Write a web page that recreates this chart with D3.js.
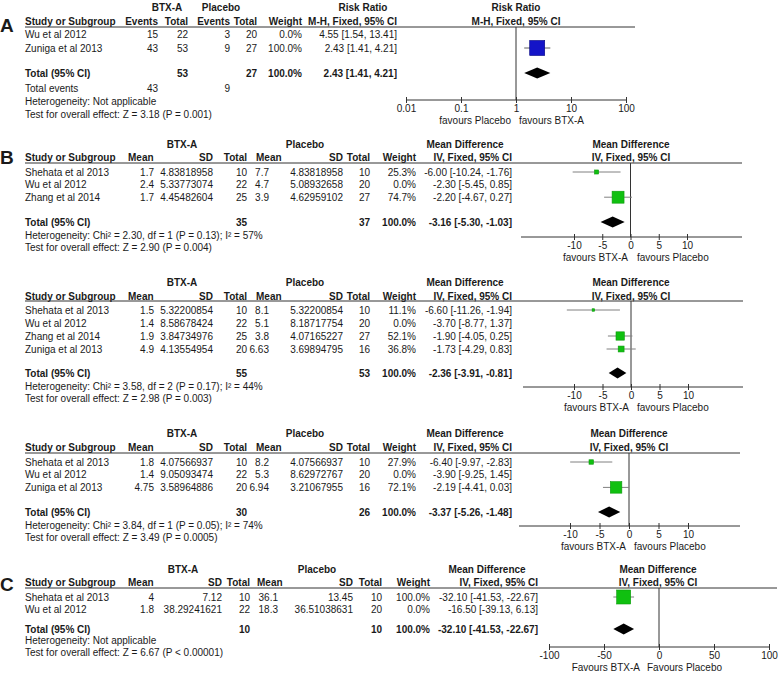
<!DOCTYPE html>
<html><head><meta charset="utf-8">
<script src="https://cdn.jsdelivr.net/npm/d3@7"></script>
<style>
body{margin:0;background:#fff}
text{font-family:"Liberation Sans",Arial,sans-serif;font-size:10px;fill:#1a1a1a}
</style>
</head><body>
<svg id="c" width="778" height="675"></svg>
<script>
// ---------------- Panel A (Risk Ratio) ----------------
const studiesA   = ["Wu et al 2012", "Zuniga et al 2013"];
const eventsBtxA = [15, 43];
const totalBtxA  = [22, 53];
const eventsPlaA = [3, 9];
const totalPlaA  = [20, 27];
const weightA    = [0.0, 100.0];
const rrA        = [4.55, 2.43];
const rrLowA     = [1.54, 1.41];
const rrHighA    = [13.41, 4.21];
const totalA     = {n1: 53, n2: 27, ev1: 43, ev2: 9, est: 2.43, lo: 1.41, hi: 4.21};
const hetA       = "Heterogeneity: Not applicable";
const testA      = "Test for overall effect: Z = 3.18 (P = 0.001)";
const ticksA     = [0.01, 0.1, 1, 10, 100];
const tickLabelsA = ["0.01", "0.1", "1", "10", "100"];

// ---------------- Panel B1 ----------------
const studiesB1 = ["Shehata et al 2013", "Wu et al 2012", "Zhang et al 2014"];
const meanBtxB1 = [1.7, 2.4, 1.7];
const sdBtxB1   = ["4.83818958", "5.33773074", "4.45482604"];
const nBtxB1    = [10, 22, 25];
const meanPlaB1 = [7.7, 4.7, 3.9];
const sdPlaB1   = ["4.83818958", "5.08932658", "4.62959102"];
const nPlaB1    = [10, 20, 27];
const weightB1  = [25.3, 0.0, 74.7];
const mdB1      = [-6.00, -2.30, -2.20];
const loB1      = [-10.24, -5.45, -4.67];
const hiB1      = [-1.76, 0.85, 0.27];
const totalB1   = {n1: 35, n2: 37, md: -3.16, lo: -5.30, hi: -1.03};
const hetB1     = "Heterogeneity: Chi² = 2.30, df = 1 (P = 0.13); I² = 57%";
const testB1    = "Test for overall effect: Z = 2.90 (P = 0.004)";

// ---------------- Panel B2 ----------------
const studiesB2 = ["Shehata et al 2013", "Wu et al 2012", "Zhang et al 2014", "Zuniga et al 2013"];
const meanBtxB2 = [1.5, 1.4, 1.9, 4.9];
const sdBtxB2   = ["5.32200854", "8.58678424", "3.84734976", "4.13554954"];
const nBtxB2    = [10, 22, 25, 20];
const meanPlaB2 = [8.1, 5.1, 3.8, 6.63];
const sdPlaB2   = ["5.32200854", "8.18717754", "4.07165227", "3.69894795"];
const nPlaB2    = [10, 20, 27, 16];
const weightB2  = [11.1, 0.0, 52.1, 36.8];
const mdB2      = [-6.60, -3.70, -1.90, -1.73];
const loB2      = [-11.26, -8.77, -4.05, -4.29];
const hiB2      = [-1.94, 1.37, 0.25, 0.83];
const totalB2   = {n1: 55, n2: 53, md: -2.36, lo: -3.91, hi: -0.81};
const hetB2     = "Heterogeneity: Chi² = 3.58, df = 2 (P = 0.17); I² = 44%";
const testB2    = "Test for overall effect: Z = 2.98 (P = 0.003)";

// ---------------- Panel B3 ----------------
const studiesB3 = ["Shehata et al 2013", "Wu et al 2012", "Zuniga et al 2013"];
const meanBtxB3 = [1.8, 1.4, 4.75];
const sdBtxB3   = ["4.07566937", "9.05093474", "3.58964886"];
const nBtxB3    = [10, 22, 20];
const meanPlaB3 = [8.2, 5.3, 6.94];
const sdPlaB3   = ["4.07566937", "8.62972767", "3.21067955"];
const nPlaB3    = [10, 20, 16];
const weightB3  = [27.9, 0.0, 72.1];
const mdB3      = [-6.40, -3.90, -2.19];
const loB3      = [-9.97, -9.25, -4.41];
const hiB3      = [-2.83, 1.45, 0.03];
const totalB3   = {n1: 30, n2: 26, md: -3.37, lo: -5.26, hi: -1.48};
const hetB3     = "Heterogeneity: Chi² = 3.84, df = 1 (P = 0.05); I² = 74%";
const testB3    = "Test for overall effect: Z = 3.49 (P = 0.0005)";

const ticksB = [-10, -5, 0, 5, 10];

// ---------------- Panel C ----------------
const studiesC = ["Shehata et al 2013", "Wu et al 2012"];
const meanBtxC = [4, 1.8];
const sdBtxC   = ["7.12", "38.29241621"];
const nBtxC    = [10, 22];
const meanPlaC = [36.1, 18.3];
const sdPlaC   = ["13.45", "36.51038631"];
const nPlaC    = [10, 20];
const weightC  = [100.0, 0.0];
const mdC      = [-32.10, -16.50];
const loC      = [-41.53, -39.13];
const hiC      = [-22.67, 6.13];
const totalC   = {n1: 10, n2: 10, md: -32.10, lo: -41.53, hi: -22.67};
const hetC     = "Heterogeneity: Not applicable";
const testC    = "Test for overall effect: Z = 6.67 (P < 0.00001)";
const ticksC   = [-100, -50, 0, 50, 100];

// ---------------- helpers ----------------
const svg = d3.select("#c");
const f2 = v => v.toFixed(2);
const ciText = (m, l, h) => `${f2(m)} [${f2(l)}, ${f2(h)}]`;
const wText = w => w.toFixed(1) + "%";
const LINE = "#333";
const WHISK = "#808080";

function txt(g, x, y, s, anchor, bold, size) {
  const t = g.append("text").attr("x", x).attr("y", y).attr("dy", "0.35em")
    .attr("text-anchor", anchor || "start").text(s);
  if (bold) t.style("font-weight", "bold");
  if (size) t.style("font-size", size + "px");
  return t;
}

function diamond(g, x, y, lo, est, hi, h) {
  const pts = [[x(lo), y], [x(est), y - h / 2], [x(hi), y], [x(est), y + h / 2]];
  g.append("polygon").attr("points", pts.map(p => p.join(",")).join(" ")).attr("fill", "#000");
}

function drawAxis(g, x, L, ticks, labels) {
  g.append("line").attr("x1", L.axisExt[0]).attr("x2", L.axisExt[1])
    .attr("y1", L.axisY).attr("y2", L.axisY).attr("stroke", LINE);
  const ax = d3.axisBottom(x).tickValues(ticks).tickSize(3).tickPadding(2)
    .tickFormat((d, i) => labels ? labels[i] : String(d));
  const a = g.append("g").attr("transform", `translate(0,${L.axisY})`).call(ax);
  a.select(".domain").remove();
  a.selectAll(".tick line").attr("y1", -3).attr("stroke", LINE);
  a.selectAll(".tick text").style("font-size", "10px").attr("fill", "#1a1a1a");
  g.append("line").attr("x1", x(L.nullVal)).attr("x2", x(L.nullVal))
    .attr("y1", L.line).attr("y2", L.axisY).attr("stroke", LINE);
}

// ---------------- Mean difference panels ----------------
function drawMD(D, L) {
  const g = svg.append("g");
  const c = L.cols;
  if (L.letter) txt(g, 0, L.letterY, L.letter, "start", true, 19);
  txt(g, c.grp1, L.y0, "BTX-A", "middle", true);
  txt(g, c.grp2, L.y0, "Placebo", "middle", true);
  txt(g, c.grpMD, L.y0, "Mean Difference", "middle", true);
  txt(g, L.plotCenter, L.y0, "Mean Difference", "middle", true);
  txt(g, 25, L.y1, "Study or Subgroup", "start", true);
  txt(g, c.meanH1, L.y1, "Mean", "start", true);
  txt(g, c.s1, L.y1, "SD", "end", true);
  txt(g, c.n1, L.y1, "Total", "end", true);
  txt(g, c.meanH2, L.y1, "Mean", "start", true);
  txt(g, c.s2, L.y1, "SD", "end", true);
  txt(g, c.n2, L.y1, "Total", "end", true);
  txt(g, c.w, L.y1, "Weight", "end", true);
  txt(g, c.ci, L.y1, "IV, Fixed, 95% CI", "end", true);
  txt(g, L.plotCenter, L.y1, "IV, Fixed, 95% CI", "middle", true);
  g.append("line").attr("x1", 25).attr("x2", L.lineEnd).attr("y1", L.line).attr("y2", L.line).attr("stroke", LINE);

  const x = d3.scaleLinear().domain(L.xDomain).range(L.xRange);
  const sz = d3.scaleLinear().domain([0, 100]).range([0, L.sqMax]);
  drawAxis(g, x, L, D.ticks, null);

  D.studies.forEach((s, i) => {
    const y = L.rowStart + i * L.rowStep;
    txt(g, 25, y, s);
    txt(g, c.m1, y, String(D.m1[i]), "end");
    txt(g, c.s1, y, D.s1[i], "end");
    txt(g, c.n1, y, String(D.n1[i]), "end");
    txt(g, c.m2, y, String(D.m2[i]), "end");
    txt(g, c.s2, y, D.s2[i], "end");
    txt(g, c.n2, y, String(D.n2[i]), "end");
    txt(g, c.w, y, wText(D.w[i]), "end");
    txt(g, c.ci, y, ciText(D.md[i], D.lo[i], D.hi[i]), "end");
    if (D.w[i] > 0) {
      g.append("line").attr("x1", x(D.lo[i])).attr("x2", x(D.hi[i]))
        .attr("y1", y).attr("y2", y).attr("stroke", WHISK);
      const s2 = Math.max(2.5, sz(D.w[i]));
      g.append("rect").attr("x", x(D.md[i]) - s2 / 2).attr("y", y - s2 / 2)
        .attr("width", s2).attr("height", s2)
        .attr("fill", "#10c010").attr("stroke", "#0c9a0c").attr("stroke-width", 0.6);
    }
  });
  const T = D.tot;
  txt(g, 25, L.total, "Total (95% CI)", "start", true);
  txt(g, c.n1, L.total, String(T.n1), "end", true);
  txt(g, c.n2, L.total, String(T.n2), "end", true);
  txt(g, c.w, L.total, "100.0%", "end", true);
  txt(g, c.ci, L.total, ciText(T.md, T.lo, T.hi), "end", true);
  diamond(g, x, L.total, T.lo, T.md, T.hi, 11);
  txt(g, 25, L.het, D.het);
  txt(g, 25, L.test, D.test);
  txt(g, L.favL[0], L.axisY + 20, L.favL[2], L.favL[1]);
  txt(g, L.favR[0], L.axisY + 20, L.favR[2], L.favR[1]);
}

const colsB = {grp1: 182, grp2: 305, grpMD: 465, meanH1: 128, m1: 154, s1: 213, n1: 247,
               meanH2: 256, m2: 269, s2: 343, n2: 370, w: 416, ci: 512};
const colsC = {grp1: 183, grp2: 317, grpMD: 487, meanH1: 128, m1: 154, s1: 222, n1: 250,
               meanH2: 257, m2: 278, s2: 353, n2: 382, w: 430, ci: 538};

drawMD({studies: studiesB1, m1: meanBtxB1, s1: sdBtxB1, n1: nBtxB1, m2: meanPlaB1, s2: sdPlaB1, n2: nPlaB1,
        w: weightB1, md: mdB1, lo: loB1, hi: hiB1, tot: totalB1, het: hetB1, test: testB1, ticks: ticksB},
       {letter: "B", letterY: 157, y0: 144, y1: 157, line: 163, rowStart: 172, rowStep: 12.6, total: 222,
        het: 235, test: 247, axisY: 237, cols: colsB, xDomain: [-10, 10], xRange: [574, 687],
        axisExt: [521, 742], lineEnd: 742, nullVal: 0, plotCenter: 631, sqMax: 16,
        favL: [628, "end", "favours BTX-A"], favR: [637, "start", "favours Placebo"]});

drawMD({studies: studiesB2, m1: meanBtxB2, s1: sdBtxB2, n1: nBtxB2, m2: meanPlaB2, s2: sdPlaB2, n2: nPlaB2,
        w: weightB2, md: mdB2, lo: loB2, hi: hiB2, tot: totalB2, het: hetB2, test: testB2, ticks: ticksB},
       {y0: 282, y1: 296, line: 301, rowStart: 310, rowStep: 13, total: 373,
        het: 386, test: 398, axisY: 387, cols: colsB, xDomain: [-10, 10], xRange: [574, 688],
        axisExt: [523, 743], lineEnd: 743, nullVal: 0, plotCenter: 631, sqMax: 16,
        favL: [629, "end", "favours BTX-A"], favR: [637, "start", "favours Placebo"]});

drawMD({studies: studiesB3, m1: meanBtxB3, s1: sdBtxB3, n1: nBtxB3, m2: meanPlaB3, s2: sdPlaB3, n2: nPlaB3,
        w: weightB3, md: mdB3, lo: loB3, hi: hiB3, tot: totalB3, het: hetB3, test: testB3, ticks: ticksB},
       {y0: 433, y1: 447, line: 453, rowStart: 462, rowStep: 12.7, total: 512,
        het: 525, test: 537, axisY: 526, cols: colsB, xDomain: [-10, 10], xRange: [570, 688],
        axisExt: [519, 740], lineEnd: 740, nullVal: 0, plotCenter: 629, sqMax: 16,
        favL: [626, "end", "favours BTX-A"], favR: [634, "start", "favours Placebo"]});

drawMD({studies: studiesC, m1: meanBtxC, s1: sdBtxC, n1: nBtxC, m2: meanPlaC, s2: sdPlaC, n2: nPlaC,
        w: weightC, md: mdC, lo: loC, hi: hiC, tot: totalC, het: hetC, test: testC, ticks: ticksC},
       {letter: "C", letterY: 584, y0: 569, y1: 582, line: 588, rowStart: 597, rowStep: 12.7, total: 629,
        het: 640, test: 652, axisY: 647, cols: colsC, xDomain: [-100, 100], xRange: [549, 769],
        axisExt: [549, 769], lineEnd: 777, nullVal: 0, plotCenter: 658, sqMax: 14,
        favL: [640, "end", "Favours BTX-A"], favR: [647, "start", "Favours Placebo"]});

// ---------------- Panel A ----------------
(function () {
  const g = svg.append("g");
  txt(g, 0, 25, "A", "start", true, 19);
  const L = {line: 27, axisY: 100, axisExt: [406, 626], nullVal: 1};
  txt(g, 167, 7, "BTX-A", "middle", true);
  txt(g, 221, 7, "Placebo", "middle", true);
  txt(g, 363, 7, "Risk Ratio", "middle", true);
  txt(g, 516, 7, "Risk Ratio", "middle", true);
  txt(g, 25, 21, "Study or Subgroup", "start", true);
  txt(g, 158, 21, "Events", "end", true);
  txt(g, 188, 21, "Total", "end", true);
  txt(g, 230, 21, "Events", "end", true);
  txt(g, 257, 21, "Total", "end", true);
  txt(g, 302, 21, "Weight", "end", true);
  txt(g, 397, 21, "M-H, Fixed, 95% CI", "end", true);
  txt(g, 516, 21, "M-H, Fixed, 95% CI", "middle", true);
  g.append("line").attr("x1", 25).attr("x2", 635).attr("y1", 27).attr("y2", 27).attr("stroke", LINE);

  const x = d3.scaleLog().domain([0.01, 100]).range([406, 626]);
  const sz = d3.scaleLinear().domain([0, 100]).range([0, 15]);
  drawAxis(g, x, L, ticksA, tickLabelsA);

  const rowY = [34, 48];
  studiesA.forEach((s, i) => {
    const y = rowY[i];
    txt(g, 25, y, s);
    txt(g, 158, y, String(eventsBtxA[i]), "end");
    txt(g, 188, y, String(totalBtxA[i]), "end");
    txt(g, 230, y, String(eventsPlaA[i]), "end");
    txt(g, 257, y, String(totalPlaA[i]), "end");
    txt(g, 302, y, wText(weightA[i]), "end");
    txt(g, 397, y, ciText(rrA[i], rrLowA[i], rrHighA[i]), "end");
    if (weightA[i] > 0) {
      g.append("line").attr("x1", x(rrLowA[i])).attr("x2", x(rrHighA[i]))
        .attr("y1", y).attr("y2", y).attr("stroke", "#606060");
      const s2 = sz(weightA[i]);
      g.append("rect").attr("x", x(rrA[i]) - s2 / 2).attr("y", y - s2 / 2)
        .attr("width", s2).attr("height", s2)
        .attr("fill", "#1414c8").attr("stroke", "#000080").attr("stroke-width", 0.6);
    }
  });
  txt(g, 25, 73, "Total (95% CI)", "start", true);
  txt(g, 188, 73, String(totalA.n1), "end", true);
  txt(g, 257, 73, String(totalA.n2), "end", true);
  txt(g, 302, 73, "100.0%", "end", true);
  txt(g, 397, 73, ciText(totalA.est, totalA.lo, totalA.hi), "end", true);
  diamond(g, x, 73, totalA.lo, totalA.est, totalA.hi, 11);
  txt(g, 25, 88, "Total events");
  txt(g, 158, 88, String(totalA.ev1), "end");
  txt(g, 230, 88, String(totalA.ev2), "end");
  txt(g, 25, 101, hetA);
  txt(g, 25, 114, testA);
  txt(g, 511, 120, "favours Placebo", "end");
  txt(g, 519, 120, "favours BTX-A", "start");
})();
</script>
</body></html>
